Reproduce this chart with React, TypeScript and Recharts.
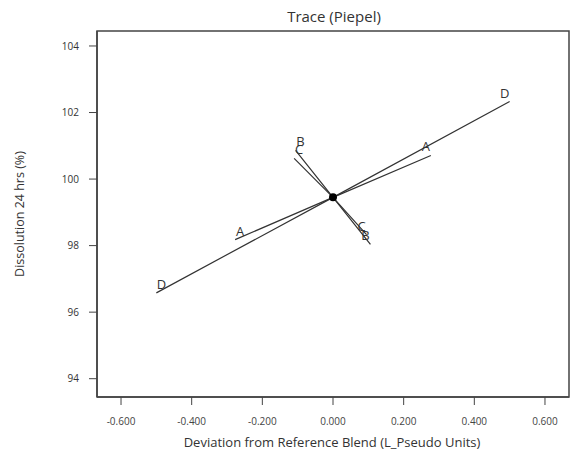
import React from 'react';
import { LineChart, Line, XAxis, YAxis, Scatter, ReferenceArea, Customized } from 'recharts';

// Piepel trace: each component's deviation from the reference blend
const xA = [-0.277, 0, 0.277];
const yA = [98.18, 99.45, 100.71];
const xB = [-0.106, 0, 0.106];
const yB = [100.86, 99.45, 98.04];
const xC = [-0.11, 0, 0.095];
const yC = [100.62, 99.45, 98.33];
const xD = [-0.5, 0, 0.5];
const yD = [96.58, 99.45, 102.33];

const refPoint = [{ x: 0, y: 99.45 }];

const xTicks = [-0.6, -0.4, -0.2, 0, 0.2, 0.4, 0.6];
const yTicks = [94, 96, 98, 100, 102, 104];

const X_DOMAIN: [number, number] = [-0.668, 0.668];
const Y_DOMAIN: [number, number] = [93.45, 104.45];

const FONT = '"Open Sans", "Noto Sans", sans-serif';
const INK = '#333';

const toPoints = (xs: number[], ys: number[]) => xs.map((x, i) => ({ x, y: ys[i] }));

const traces = [
  { name: 'A', data: toPoints(xA, yA) },
  { name: 'B', data: toPoints(xB, yB) },
  { name: 'C', data: toPoints(xC, yC) },
  { name: 'D', data: toPoints(xD, yD) },
];

// letter at both ends of a trace, nudged in toward the reference point
const endLabel = (letter: string, count: number) => (props: any) => {
  const { x, y, index } = props;
  if (index !== 0 && index !== count - 1) return null;
  const dx = index === 0 ? 5 : -5;
  return (
    <text key={`${letter}-${index}`} x={x + dx} y={y - 4} textAnchor="middle" fontSize={13} fontFamily={FONT} fill={INK}>
      {letter}
    </text>
  );
};

const Titles = () => (
  <g fontFamily={FONT} fill={INK}>
    <text x={334} y={22} textAnchor="middle" fontSize={15}>Trace (Piepel)</text>
    <text x={332} y={447} textAnchor="middle" fontSize={13}>Deviation from Reference Blend (L_Pseudo Units)</text>
    <text x={24} y={214} textAnchor="middle" fontSize={12.5} transform="rotate(-90 24 214)">Dissolution 24 hrs (%)</text>
  </g>
);

const App = () => {
  return (
    <div style={{ position: 'fixed', left: 0, top: 0, width: 576, height: 452, background: '#fff' }}>
      <LineChart width={576} height={452} margin={{ top: 31, right: 7, bottom: 0, left: 0 }}>
        <XAxis
          type="number"
          dataKey="x"
          domain={X_DOMAIN}
          ticks={xTicks}
          allowDataOverflow
          tickFormatter={(v) => v.toFixed(3)}
          tickSize={8}
          tickMargin={13}
          height={55}
          axisLine={{ stroke: '#444', strokeWidth: 1.5 }}
          tickLine={{ stroke: '#444' }}
          tick={{ fontSize: 10, fill: '#444', fontFamily: FONT }}
        />
        <YAxis
          type="number"
          dataKey="y"
          domain={Y_DOMAIN}
          ticks={yTicks}
          allowDataOverflow
          tickSize={8}
          tickMargin={10}
          width={97}
          axisLine={{ stroke: '#444', strokeWidth: 1.5 }}
          tickLine={{ stroke: '#444' }}
          tick={{ fontSize: 10, fill: INK, fontFamily: FONT }}
        />
        <ReferenceArea x1={X_DOMAIN[0]} x2={X_DOMAIN[1]} y1={Y_DOMAIN[0]} y2={Y_DOMAIN[1]} fill="none" stroke="#444" strokeWidth={1.5} fillOpacity={0} />
        {traces.map((t) => (
          <Line
            key={t.name}
            data={t.data}
            dataKey="y"
            type="linear"
            stroke={INK}
            strokeWidth={1.2}
            dot={false}
            activeDot={false}
            label={endLabel(t.name, t.data.length)}
            isAnimationActive={false}
          />
        ))}
        <Scatter data={refPoint} dataKey="y" fill="#000" shape={(p: any) => <circle cx={p.cx} cy={p.cy} r={4} fill="#000" />} isAnimationActive={false} />
        <Customized component={Titles} />
      </LineChart>
    </div>
  );
};

export default App;
